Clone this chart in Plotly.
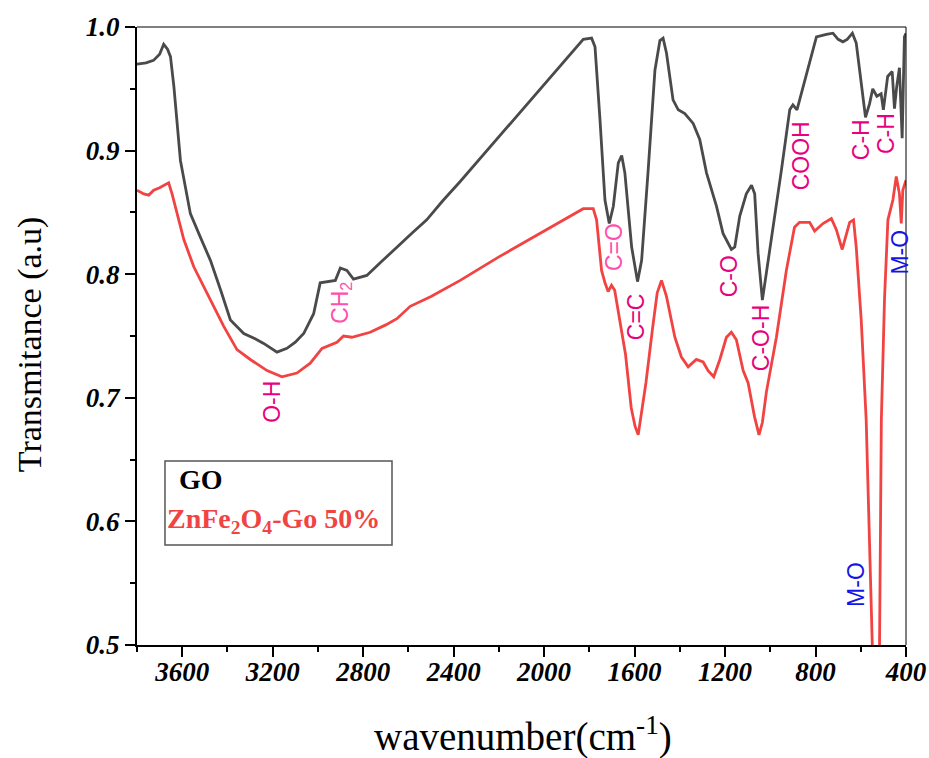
import plotly.graph_objects as go

# ---------------- data ----------------
wn_go = [3800, 3760, 3727, 3700, 3682, 3665, 3652, 3637, 3608, 3564,
         3520, 3475, 3430, 3387, 3328, 3280, 3240, 3181, 3137, 3100,
         3063, 3019, 2990, 2960, 2923, 2901, 2872, 2843, 2784, 2720,
         2651, 2580, 2519, 2450, 2371, 2200, 2000, 1930, 1870, 1827,
         1790, 1775, 1753, 1731, 1712, 1694, 1672, 1657, 1643, 1613,
         1587, 1569, 1540, 1510, 1488, 1474, 1459, 1430, 1407, 1378,
         1341, 1312, 1282, 1238, 1209, 1172, 1157, 1135, 1106, 1083,
         1069, 1054, 1035, 1017, 988, 951, 914, 900, 882, 855,
         826, 796, 752, 723, 700, 679, 660, 637, 620, 598,
         579, 561, 547, 529, 510, 500, 481, 461, 451, 441,
         429, 417, 407, 400]
t_go = [0.970, 0.971, 0.973, 0.978, 0.986, 0.982, 0.976, 0.952, 0.892, 0.849,
        0.830, 0.811, 0.787, 0.763, 0.752, 0.748, 0.744, 0.737, 0.740, 0.745,
        0.752, 0.768, 0.793, 0.794, 0.795, 0.805, 0.803, 0.796, 0.799, 0.810,
        0.822, 0.834, 0.844, 0.859, 0.875, 0.911, 0.953, 0.968, 0.981, 0.990,
        0.991, 0.984, 0.925, 0.860, 0.841, 0.855, 0.890, 0.896, 0.882, 0.822,
        0.794, 0.811, 0.884, 0.965, 0.989, 0.991, 0.979, 0.941, 0.933, 0.930,
        0.922, 0.909, 0.882, 0.855, 0.833, 0.820, 0.822, 0.847, 0.865, 0.872,
        0.865, 0.817, 0.779, 0.801, 0.838, 0.884, 0.933, 0.937, 0.933, 0.952,
        0.973, 0.992, 0.994, 0.995, 0.990, 0.988, 0.990, 0.995, 0.987, 0.957,
        0.927, 0.938, 0.950, 0.944, 0.946, 0.933, 0.960, 0.964, 0.934, 0.952,
        0.967, 0.910, 0.992, 0.995]

wn_zn = [3800, 3770, 3748, 3726, 3700, 3682, 3660, 3645, 3623, 3593,
         3549, 3490, 3417, 3358, 3299, 3225, 3159, 3093, 3034, 2982,
         2946, 2916, 2887, 2850, 2769, 2700, 2651, 2592, 2500, 2371,
         2200, 2000, 1930, 1827, 1783, 1768, 1746, 1731, 1717, 1702,
         1688, 1665, 1640, 1615, 1598, 1584, 1570, 1550, 1520, 1500,
         1481, 1459, 1422, 1393, 1363, 1327, 1297, 1275, 1250, 1223,
         1194, 1172, 1150, 1120, 1098, 1070, 1050, 1035, 1017, 973,
         929, 893, 871, 826, 804, 767, 730, 708, 682, 664,
         649, 632, 620, 598, 576, 549, 533, 517, 509, 495,
         480, 458, 443, 429, 421, 414, 400]
t_zn = [0.868, 0.865, 0.864, 0.868, 0.870, 0.872, 0.874, 0.865, 0.849, 0.828,
        0.806, 0.785, 0.758, 0.739, 0.731, 0.722, 0.717, 0.720, 0.728, 0.740,
        0.743, 0.745, 0.750, 0.749, 0.753, 0.759, 0.764, 0.774, 0.782, 0.795,
        0.814, 0.835, 0.842, 0.853, 0.853, 0.844, 0.803, 0.793, 0.786, 0.791,
        0.787, 0.763, 0.735, 0.692, 0.677, 0.670, 0.686, 0.712, 0.757, 0.785,
        0.795, 0.782, 0.749, 0.733, 0.725, 0.731, 0.729, 0.722, 0.717, 0.731,
        0.749, 0.753, 0.747, 0.722, 0.712, 0.685, 0.670, 0.680, 0.705, 0.749,
        0.803, 0.838, 0.842, 0.842, 0.835, 0.841, 0.845, 0.836, 0.820, 0.833,
        0.842, 0.844, 0.822, 0.763, 0.682, 0.500, 0.400, 0.500, 0.682, 0.780,
        0.844, 0.860, 0.879, 0.865, 0.841, 0.868, 0.876]

x_ticks = [3600, 3200, 2800, 2400, 2000, 1600, 1200, 800, 400]
x_minor = [3800, 3400, 3000, 2600, 2200, 1800, 1400, 1000, 600]
y_ticks = [0.5, 0.6, 0.7, 0.8, 0.9, 1.0]
y_minor = [0.55, 0.65, 0.75, 0.85, 0.95]

peak_labels = ["O-H", "CH<sub>2</sub>", "C=O", "C=C", "C-O", "C-O-H", "COOH",
               "C-H", "C-H", "M-O", "M-O"]
peak_x = [3206, 2897, 1691, 1594, 1184, 1038, 865, 596, 485, 428, 619]
peak_y = [0.697, 0.777, 0.822, 0.766, 0.798, 0.748, 0.896, 0.909, 0.914, 0.818, 0.549]
peak_colors = ["#E8007F", "#FF4FAE", "#FF4FAE", "#E8007F", "#E8007F", "#E8007F",
               "#E8007F", "#E8007F", "#E8007F", "#1414E6", "#1414E6"]

assert len(wn_go) == len(t_go) and len(wn_zn) == len(t_zn)

# ---------------- figure ----------------
fig = go.Figure()
fig.add_trace(go.Scatter(x=wn_go, y=t_go, mode="lines", name="GO",
                         line=dict(color="#4A4A4A", width=2.8), showlegend=False))
fig.add_trace(go.Scatter(x=wn_zn, y=t_zn, mode="lines", name="ZnFe2O4-Go 50%",
                         line=dict(color="#F24343", width=2.8), showlegend=False))

tickfont = dict(family="Liberation Serif", size=27, color="black")

fig.update_layout(
    width=929, height=758,
    margin=dict(l=137, r=23, t=27, b=113),
    paper_bgcolor="white", plot_bgcolor="white",
    xaxis=dict(range=[3800, 400], tickvals=x_ticks,
               ticktext=["<b><i>%d</i></b>" % v for v in x_ticks],
               ticks="outside", ticklen=10, tickwidth=2, tickcolor="black",
               ticklabelstandoff=-8,
               showline=True, linecolor="black", linewidth=2, automargin=False,
               showgrid=False, zeroline=False, tickfont=tickfont,
               minor=dict(tickvals=x_minor, ticks="outside", ticklen=5,
                          tickwidth=2, tickcolor="black", showgrid=False)),
    yaxis=dict(range=[0.5, 1.0], tickvals=y_ticks,
               ticktext=["<b><i>%.1f</i></b>" % v for v in y_ticks],
               ticks="outside", ticklen=10, tickwidth=2, tickcolor="black",
               showline=True, linecolor="black", linewidth=2, automargin=False,
               showgrid=False, zeroline=False, tickfont=tickfont,
               minor=dict(tickvals=y_minor, ticks="outside", ticklen=5,
                          tickwidth=2, tickcolor="black", showgrid=False)),
)

# frame: top and right thin lines
fig.add_shape(type="line", xref="paper", yref="paper", x0=0, x1=1, y0=1, y1=1,
              line=dict(color="#808080", width=2))
fig.add_shape(type="line", xref="paper", yref="paper", x0=1, x1=1, y0=0, y1=1,
              line=dict(color="black", width=1))

# axis titles
fig.add_annotation(xref="paper", yref="paper", x=0.502, y=-0.145,
                   text="wavenumber(cm<sup>-1</sup>)", showarrow=False,
                   font=dict(family="Liberation Serif", size=39, color="black"),
                   xanchor="center", yanchor="middle")
fig.add_annotation(xref="paper", yref="paper", x=-0.139, y=0.487,
                   text="Transmitance (a.u)", showarrow=False, textangle=-90,
                   font=dict(family="Liberation Serif", size=34, color="black"),
                   xanchor="center", yanchor="middle")

# peak labels
for lbl, px, py, col in zip(peak_labels, peak_x, peak_y, peak_colors):
    fig.add_annotation(x=px, y=py, xref="x", yref="y", text=lbl, showarrow=False,
                       textangle=-90, font=dict(family="Liberation Sans", size=23, color=col),
                       xanchor="center", yanchor="middle")

# legend box
fig.add_shape(type="rect", xref="paper", yref="paper",
              x0=0.0364, x1=0.3316, y0=0.1618, y1=0.2977,
              line=dict(color="#555555", width=1.5), fillcolor="white", layer="above")
fig.add_annotation(xref="paper", yref="paper", x=0.052, y=0.2686,
                   text="<b>GO</b>", showarrow=False, xanchor="left", yanchor="middle",
                   font=dict(family="Liberation Serif", size=28, color="black"))
fig.add_annotation(xref="paper", yref="paper", x=0.037, y=0.2022,
                   text="<b>ZnFe<sub>2</sub>O<sub>4</sub>-Go 50%</b>", showarrow=False,
                   xanchor="left", yanchor="middle",
                   font=dict(family="Liberation Serif", size=28, color="#F24343"))

fig.write_html("out.html")
